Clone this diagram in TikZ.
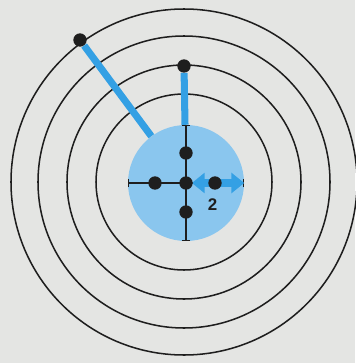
\documentclass[tikz,border=0pt]{standalone}
\usepackage{fontspec}
\setsansfont{Liberation Sans}
\usepackage{tikz}
\usetikzlibrary{positioning,arrows.meta}
\definecolor{paper}{RGB}{228,229,227}
\definecolor{wash}{RGB}{138,198,238}
\definecolor{beam}{RGB}{52,160,228}
\definecolor{ink}{RGB}{30,30,30}

\begin{document}
\begin{tikzpicture}[x=0.3mm, y=-0.3mm,
		ring/.style={draw=ink, line width=1.3pt},
		dot/.style={circle, fill=ink, inner sep=0pt, minimum size=4mm},
		beamline/.style={beam, line width=6pt},
		crossline/.style={ink, line width=1.1pt, {Bar[width=6pt]}-{Bar[width=6pt]}},
		spread/.style={beam, line width=6pt, {Triangle[width=17pt,length=11pt]}-{Triangle[width=17pt,length=11pt]}}]
		\fill[paper] (0,0) rectangle (355,363);
		\useasboundingbox (0,0) rectangle (355,363);
		% target rings
		\foreach \r in {88,117,146,173}
			\draw[ring] (184,182) circle[radius=\r];
		\node[circle, fill=wash, inner sep=0pt, minimum size=116*0.3mm] (disk) at (186,183) {};
		\node[dot] (outer) at (80,40) {};
		\node[dot] (mid) at (184,66) {};
		\draw[beamline] (outer) -- (disk);
		\draw[beamline] (mid) -- (disk);
		\draw[crossline] (disk.west) -- (disk.east);
		\draw[crossline] (disk.north) -- (disk.south);
		\draw[spread, shorten <=5pt] (disk.center) -- (disk.east);
		\node[dot] (c) at (disk.center) {};
		\node[dot] (left) at (155,183) {};
		\node[dot] (right) at (215,183) {};
		\node[dot] (top) at (186,153) {};
		\node[dot] (bottom) at (186,212) {};
		\node[font=\sffamily\bfseries\Large, ink, below=4pt of right, xshift=-2pt] (lbl) {2};
	\end{tikzpicture}
\end{document}
